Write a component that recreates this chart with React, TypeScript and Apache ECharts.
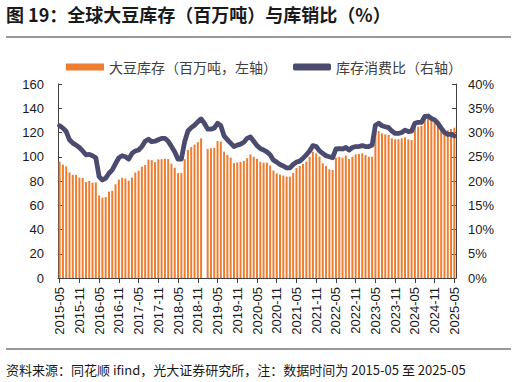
import React, { useEffect, useRef } from "react";
import * as echarts from "echarts";

// Monthly categories 2015-05 .. 2025-05
const startYear = 2015;
const startMonth = 5;
const monthCount = 121;
const categories: string[] = [];
for (let k = 0; k < monthCount; k++) {
  const m = startMonth - 1 + k;
  const y = startYear + Math.floor(m / 12);
  const mm = (m % 12) + 1;
  categories.push(`${y}-${mm < 10 ? "0" + mm : mm}`);
}

// 全球大豆库存（百万吨，左轴）
const stocks: (number | null)[] = [
  96, 93.5, 92, 87, 85, 85, 82.7, 82.5, 79.2, 80, 78.6, 78.8,
  68, 66.2, 66.8, 71.2, 72, 77.3, 81.2, 82.6, 82, 80.2, 82.8, 87,
  88.5, 91.8, 93.2, 97.6, 97.2, 95.6, 97.8, 98.1, 98.4, 98.1, 94.3, 90.8,
  86.5, 86.5, 98, 105.6, 108, 110, 112, 115.2, null, 106.5, 107, 107.3,
  113, 112.5, 104.2, 101.4, 99.3, 94.8, 95.3, 95.8, 96.5, 98.8, 102, 100,
  98.4, 95.9, 95.1, 95.2, 92.8, 88.6, 86.3, 85.2, 84.5, 83.6, 83.6, 86.6,
  90.7, 92.4, 94, 95.9, 100, 104.2, 102.8, 100, 94.6, 92.4, 89.6, 89.1,
  99.2, 100, 99.2, 100.9, 98.1, 100, 102, 102.3, 102.8, 101.4, 100, 100,
  122.9, 121.2, 119.3, 118.5, 117.9, 115.2, 114.4, 114.4, 115.2, 116, 114.4, 113.8,
  124.8, 124.8, 125.4, 131.7, 131.1, 130.3, 128.4, 126.2, 122.9, 121.2, 121.8, 122.9,
  124,
];

// 库存消费比（%，右轴）
const ratio: number[] = [
  31.4, 30.9, 30.2, 28.5, 27.8, 27.4, 26.9, 26.2, 25.4, 25.5, 25.2, 24.8,
  20.9, 20.2, 20.6, 21.6, 22.3, 23.6, 24.8, 25.2, 25, 24.5, 25.7, 26.2,
  26.4, 27.1, 28.2, 28.6, 28.1, 28.2, 28.5, 28.8, 28.8, 28.2, 27.1, 26,
  24.5, 24.5, 28.1, 30.3, 31, 31.5, 32.2, 32.8, 31.9, 30.7, 30.7, 30.9,
  31.9, 31.4, 29.3, 28.5, 27.8, 27.1, 27.4, 27.6, 28, 28.8, 29.1, 28.2,
  27.3, 26.7, 26.4, 26, 25.4, 24.3, 23.9, 23.4, 23.1, 22.7, 22.7, 23.4,
  23.9, 24.1, 24.7, 25.4, 26.2, 27.3, 27.1, 26.2, 25.7, 25.2, 25, 24.8,
  26.6, 26.7, 26.6, 26.9, 26.4, 26.9, 27.1, 27.1, 27.3, 27.1, 27.1, 27.4,
  31.5, 31.9, 31.4, 31.2, 31, 30.3, 29.8, 29.8, 30, 30.5, 30.2, 30.3,
  31.9, 32.1, 32.1, 33.3, 33.4, 32.9, 32.6, 31.9, 30.9, 30, 29.6, 29.6,
  29.3,
];

const titleText = "图 19：全球大豆库存（百万吨）与库销比（%）";
const sourceText =
  "资料来源：同花顺 ifind，光大证券研究所，注：数据时间为 2015-05 至 2025-05";
const barName = "大豆库存（百万吨，左轴）";
const lineName = "库存消费比（右轴）";

const CJK = "'Noto Sans CJK SC', 'Liberation Sans', sans-serif";
const NUM = "'Liberation Sans', Arial, 'Noto Sans CJK SC', sans-serif";

export default function App() {
  const ref = useRef<HTMLDivElement>(null);

  useEffect(() => {
    if (!ref.current) return;
    const chart = echarts.init(ref.current, undefined, { renderer: "svg" });
    chart.setOption({
      animation: false,
      backgroundColor: "#ffffff",
      title: {
        text: titleText,
        left: 6,
        top: 5,
        padding: 0,
        textStyle: {
          fontSize: 18,
          fontWeight: "bold",
          color: "#1a1a1a",
          fontFamily: CJK,
        },
      },
      legend: {
        top: 60,
        left: 66,
        padding: 0,
        itemWidth: 38,
        itemHeight: 7,
        itemGap: 16,
        textStyle: { fontSize: 14, color: "#404040", fontFamily: CJK },
        data: [
          { name: barName, icon: "rect" },
          { name: lineName, icon: "roundRect" },
        ],
      },
      grid: { left: 58, right: 60, top: 84, bottom: 104, containLabel: false },
      xAxis: {
        type: "category",
        data: categories,
        boundaryGap: true,
        axisLine: { show: true, lineStyle: { color: "#404040", width: 1 } },
        axisTick: {
          show: true,
          interval: 5,
          alignWithLabel: true,
          length: 5,
          lineStyle: { color: "#404040" },
        },
        axisLabel: {
          interval: 5,
          rotate: 90,
          fontSize: 13,
          color: "#1a1a1a",
          fontFamily: NUM,
          margin: 9,
        },
        splitLine: { show: false },
      },
      yAxis: [
        {
          type: "value",
          min: 0,
          max: 160,
          interval: 20,
          axisLine: { show: true, lineStyle: { color: "#404040", width: 1 } },
          axisTick: { show: true, inside: true, length: 4, lineStyle: { color: "#404040" } },
          axisLabel: { fontSize: 13, color: "#1a1a1a", fontFamily: NUM, margin: 14 },
          splitLine: { show: false },
        },
        {
          type: "value",
          min: 0,
          max: 40,
          interval: 5,
          position: "right",
          axisLine: { show: true, lineStyle: { color: "#404040", width: 1 } },
          axisTick: { show: true, inside: true, length: 4, lineStyle: { color: "#404040" } },
          axisLabel: {
            fontSize: 13,
            color: "#1a1a1a",
            fontFamily: NUM,
            margin: 12,
            formatter: "{value}%",
          },
          splitLine: { show: false },
        },
      ],
      series: [
        {
          name: barName,
          type: "bar",
          yAxisIndex: 0,
          data: stocks,
          barWidth: 2,
          itemStyle: { color: "#ED7D31" },
        },
        {
          name: lineName,
          type: "line",
          yAxisIndex: 1,
          data: ratio,
          symbol: "none",
          showSymbol: false,
          z: 5,
          lineStyle: { color: "#4B4B70", width: 4.8, cap: "round", join: "round" },
          itemStyle: { color: "#4B4B70" },
        },
      ],
      graphic: [
        {
          type: "line",
          shape: { x1: 6, y1: 37, x2: 511, y2: 37 },
          style: { stroke: "#333333", lineWidth: 1 },
        },
        {
          type: "line",
          shape: { x1: 6, y1: 349, x2: 511, y2: 349 },
          style: { stroke: "#333333", lineWidth: 1 },
        },
        {
          type: "text",
          x: 6,
          y: 369,
          style: {
            text: sourceText,
            fontSize: 13,
            fill: "#1a1a1a",
            fontFamily: CJK,
            textVerticalAlign: "middle",
          },
        },
      ],
    });
    return () => chart.dispose();
  }, []);

  return (
    <div
      ref={ref}
      style={{ position: "fixed", left: 0, top: 0, width: 516, height: 382 }}
    />
  );
}
